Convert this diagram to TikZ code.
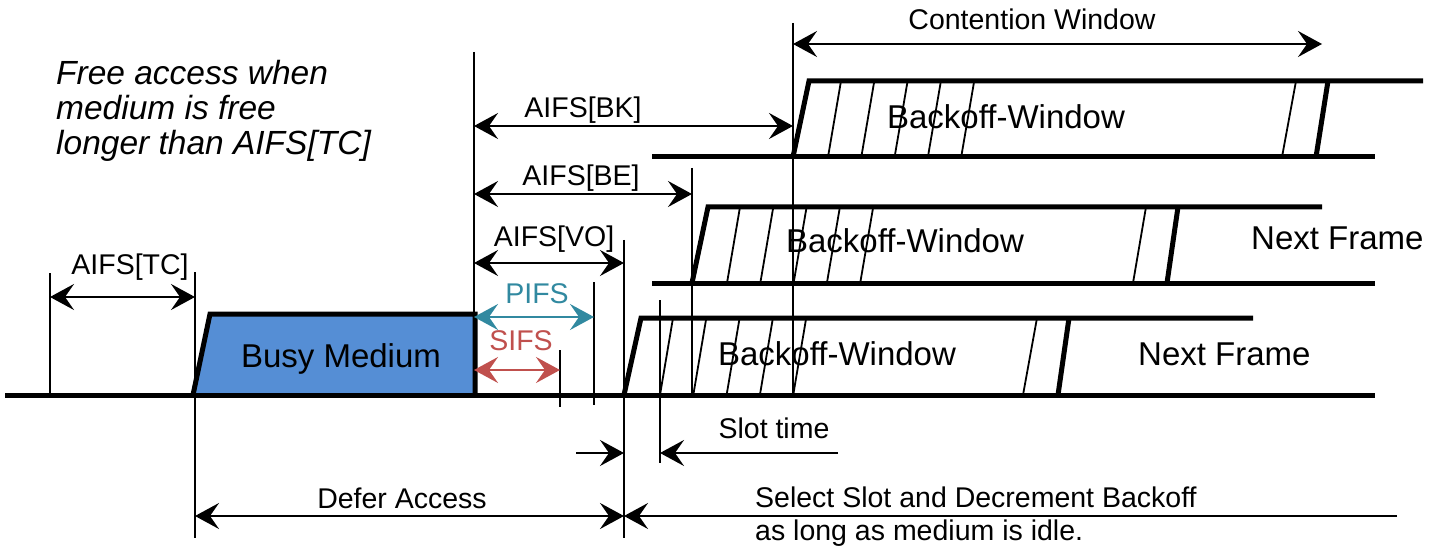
\documentclass[tikz,border=0pt]{standalone}
\usepackage{fontspec}
\setmainfont{Liberation Sans}
\usetikzlibrary{arrows.meta}
\definecolor{busyblue}{RGB}{85,142,213}
\definecolor{pifscol}{RGB}{49,137,160}
\definecolor{sifscol}{RGB}{192,80,77}
\begin{document}
\begin{tikzpicture}[x=1pt,y=-1pt,
  >={Stealth[length=24pt,width=26pt,inset=9pt]},
  thickln/.style={line width=5pt},
  thinln/.style={line width=2pt},
  hatchln/.style={line width=1.8pt},
  dimln/.style={line width=2pt},
  lab/.style={font=\fontsize{28.5}{30}\selectfont, inner sep=0pt, anchor=base},
  big/.style={font=\fontsize{33}{35}\selectfont, inner sep=0pt, anchor=base},
  itl/.style={font=\fontsize{33.5}{35}\selectfont\itshape, inner sep=0pt, anchor=base west}]
\useasboundingbox (0,0) rectangle (1430,548);

% ---------- time marks (vertical lines) ----------
\coordinate (m50t) at (50,273);   \coordinate (m50b) at (50,393);
\coordinate (m195t) at (195,272); \coordinate (m195b) at (195,538);
\coordinate (m474t) at (474,52);  \coordinate (m474b) at (474,395);
\coordinate (m560t) at (560,350); \coordinate (m560b) at (560,407);
\coordinate (m594t) at (594,282); \coordinate (m594b) at (594,405);
\coordinate (m624t) at (624,240); \coordinate (m624b) at (624,538);
\coordinate (m660t) at (660,300); \coordinate (m660b) at (660,463);
\coordinate (m692t) at (692,168); \coordinate (m692b) at (692,395);
\coordinate (m793t) at (793,23);  \coordinate (m793b) at (793,395);
\foreach \m in {50,195,474,560,594,624,660,692,793}
  \draw[thinln] (m\m t) -- (m\m b);

% ---------- busy medium ----------
\draw[thickln, fill=busyblue] (193,395) -- (210,314) -- (475,314) -- (475,395);
\node[big] (busy) at (341,367) {Busy Medium};

% ---------- row 3 (bottom) ----------
\draw[thickln] (5,395) -- (1375,395);
\draw[thickln] (624,395) -- (641,318) -- (1253,318);
\foreach \k in {0,...,4}
  \draw[hatchln] ({660+33.3*\k},395) -- ({673+33.3*\k},318);
\draw[hatchln] (1023,395) -- (1037,318);
\draw[thickln] (1058,395) -- (1069,318);
\node[big] (bw3) at (837,365) {Backoff-Window};
\node[big, anchor=base west] (nf3) at (1138,365) {Next Frame};

% ---------- row 2 ----------
\draw[thickln] (652,283) -- (1375,283);
\draw[thickln] (692,283) -- (708,207) -- (1322,207);
\foreach \k in {0,...,4}
  \draw[hatchln] ({727+33.3*\k},283) -- ({740+33.3*\k},207);
\draw[hatchln] (1133,283) -- (1146,207);
\draw[thickln] (1167,283) -- (1178,207);
\node[big] (bw2) at (905,252) {Backoff-Window};
\node[big, anchor=base west] (nf2) at (1251,250) {Next Frame};

% ---------- row 1 ----------
\draw[thickln] (652,157) -- (1375,157);
\draw[thickln] (793,157) -- (809,81) -- (1423,81);
\foreach \k in {0,...,4}
  \draw[hatchln] ({828+33.3*\k},157) -- ({841+33.3*\k},81);
\draw[hatchln] (1282,157) -- (1296,81);
\draw[thickln] (1316,157) -- (1328,81);
\node[big] (bw1) at (1006,129) {Backoff-Window};

% ---------- dimension arrows ----------
\coordinate (tcL) at (50,297);  \coordinate (tcR) at (195,297);
\coordinate (bkL) at (474,126); \coordinate (bkR) at (793,126);
\coordinate (beL) at (474,194); \coordinate (beR) at (692,194);
\coordinate (voL) at (474,263); \coordinate (voR) at (624,263);
\coordinate (piL) at (474,317); \coordinate (piR) at (594,317);
\coordinate (siL) at (474,370); \coordinate (siR) at (560,370);
\coordinate (cwL) at (793,44);  \coordinate (cwR) at (1322,44);
\coordinate (slA) at (576,453); \coordinate (slB) at (624,453);
\coordinate (slC) at (838,453); \coordinate (slD) at (660,453);
\coordinate (dfL) at (195,516); \coordinate (dfR) at (624,516);
\coordinate (ssR) at (1397,516); \coordinate (ssL) at (624,516);

\draw[dimln,<->] (tcL) -- (tcR);
\draw[dimln,<->] (bkL) -- (bkR);
\draw[dimln,<->] (beL) -- (beR);
\draw[dimln,<->] (voL) -- (voR);
\draw[dimln,<->,draw=pifscol,fill=pifscol] (piL) -- (piR);
\draw[dimln,<->,draw=sifscol,fill=sifscol] (siL) -- (siR);
\draw[dimln,<->] (cwL) -- (cwR);
\draw[dimln,->] (slA) -- (slB);
\draw[dimln,->] (slC) -- (slD);
\draw[dimln,<->] (dfL) -- (dfR);
\draw[dimln,->] (ssR) -- (ssL);

% ---------- labels ----------
\node[lab] (cw) at (1032,30) {Contention Window};
\node[lab] (bk) at (583,118) {AIFS[BK]};
\node[lab] (be) at (581,186) {AIFS[BE]};
\node[lab] (vo) at (554,247) {AIFS[VO]};
\node[lab, text=pifscol] (pifs) at (537,303) {PIFS};
\node[lab, text=sifscol] (sifs) at (521,350) {SIFS};
\node[lab] (tc) at (130,275) {AIFS[TC]};
\node[lab] (slot) at (774,438) {Slot time};
\node[lab] (defer) at (402,508) {Defer Access};
\node[lab, anchor=base west] (sel1) at (755,507) {Select Slot and Decrement Backoff};
\node[lab, anchor=base west] (sel2) at (755,540) {as long as medium is idle.};

\node[itl] (fa1) at (56,85) {Free access when};
\node[itl] (fa2) at (56,120) {medium is free};
\node[itl] (fa3) at (56,155) {longer than AIFS[TC]};
\end{tikzpicture}
\end{document}
